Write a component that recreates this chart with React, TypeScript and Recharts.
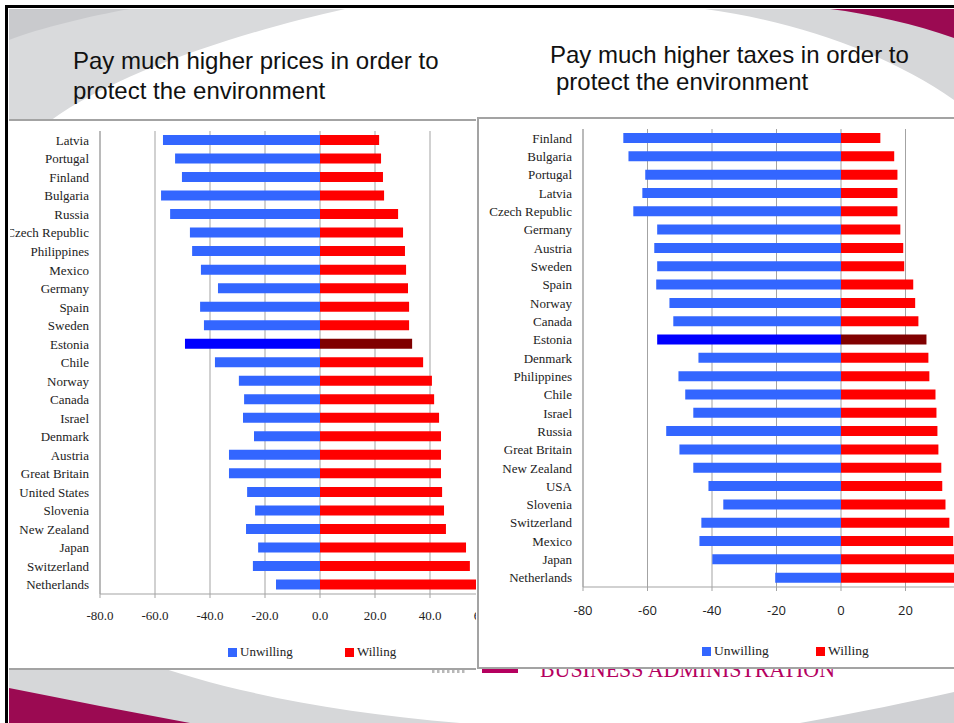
import React from "react";
import { Bar, BarChart, CartesianGrid, Cell, XAxis, YAxis } from "recharts";

// left chart: pay much higher prices
const pricesCountries = ["Latvia", "Portugal", "Finland", "Bulgaria", "Russia", "Czech Republic", "Philippines", "Mexico", "Germany", "Spain", "Sweden", "Estonia", "Chile", "Norway", "Canada", "Israel", "Denmark", "Austria", "Great Britain", "United States", "Slovenia", "New Zealand", "Japan", "Switzerland", "Netherlands"];
const pricesUnwilling = [-57.1, -52.7, -50.2, -57.8, -54.5, -47.3, -46.5, -43.3, -37.1, -43.6, -42.2, -49.1, -38.2, -29.5, -27.6, -28.0, -24.0, -33.1, -33.1, -26.5, -23.6, -26.9, -22.5, -24.4, -16.0];
const pricesWilling = [21.5, 22.2, 22.9, 23.3, 28.4, 30.2, 30.9, 31.3, 32.0, 32.4, 32.4, 33.5, 37.5, 40.7, 41.5, 43.3, 44.0, 44.0, 44.0, 44.4, 45.1, 45.8, 53.1, 54.5, 58.0];
const pricesTicks = [-80, -60, -40, -20, 0, 20, 40, 60];

// right chart: pay much higher taxes
const taxesCountries = ["Finland", "Bulgaria", "Portugal", "Latvia", "Czech Republic", "Germany", "Austria", "Sweden", "Spain", "Norway", "Canada", "Estonia", "Denmark", "Philippines", "Chile", "Israel", "Russia", "Great Britain", "New Zealand", "USA", "Slovenia", "Switzerland", "Mexico", "Japan", "Netherlands"];
const taxesUnwilling = [-67.5, -65.9, -60.7, -61.6, -64.4, -57.0, -57.9, -57.0, -57.3, -53.2, -52.0, -57.0, -44.2, -50.4, -48.3, -45.8, -54.2, -50.1, -45.8, -41.1, -36.5, -43.3, -43.9, -39.9, -20.4];
const taxesWilling = [12.2, 16.5, 17.5, 17.5, 17.5, 18.4, 19.3, 19.6, 22.4, 23.0, 24.0, 26.5, 27.1, 27.4, 29.3, 29.6, 29.9, 30.2, 31.1, 31.4, 32.4, 33.6, 34.8, 36.0, 37.0];
const taxesTicks = [-80, -60, -40, -20, 0, 20, 40];

const highlight = "Estonia";
const BLUE = "#3366FF", RED = "#FF0000", BLUE_HI = "#0000FF", RED_HI = "#800000";
const GRID = "#a3a3a3";
const SERIF = "'Liberation Serif', 'Times New Roman', serif";

function build(countries: string[], unwilling: number[], willing: number[]) {
  return countries.map((country, i) => ({ country, unwilling: unwilling[i], willing: willing[i] }));
}

// plain label, no wrapping (long names just run off the panel edge like the original)
const CountryTick = ({ x, y, payload }: any) =>
  <text x={x} y={y} dy="0.355em" textAnchor="end" fill="#222" fontFamily={SERIF} fontSize={13}>{payload.value}</text>;

function Diverging({ data, ticks, width, height, yWidth, right, fmt, tickFont, tickMargin }: any) {
  return <BarChart layout="vertical" width={width} height={height} data={data} stackOffset="sign"
    margin={{ top: 11, right, bottom: 0, left: 0 }}>
    <CartesianGrid horizontal={false} stroke={GRID} />
    <XAxis type="number" domain={[ticks[0], ticks[ticks.length - 1]]} ticks={ticks} interval={0} allowDataOverflow
      tickFormatter={fmt} height={30} tickSize={4} tickMargin={tickMargin} stroke={GRID}
      tick={{ fill: "#222", ...tickFont }} />
    <YAxis type="category" dataKey="country" width={yWidth} interval={0} tickLine={false} tickSize={0} tickMargin={11}
      axisLine={{ stroke: GRID }} tick={<CountryTick />} />
    <Bar dataKey="unwilling" stackId="s" barSize={10} isAnimationActive={false}>
      {data.map((d: any) => <Cell key={d.country} fill={d.country === highlight ? BLUE_HI : BLUE} />)}
    </Bar>
    <Bar dataKey="willing" stackId="s" barSize={10} isAnimationActive={false}>
      {data.map((d: any) => <Cell key={d.country} fill={d.country === highlight ? RED_HI : RED} />)}
    </Bar>
  </BarChart>;
}

function Legend({ x1, x2, top, size }: { x1: number; x2: number; top: number; size: number }) {
  const item = (x: number, color: string, label: string) => <div style={{ position: "absolute", left: x, top, display: "flex", alignItems: "center", fontFamily: SERIF, fontSize: size, color: "#222", lineHeight: "14px" }}>
    <span style={{ width: 9, height: 9, background: color, marginRight: 3 }} />{label}
  </div>;
  return <>{item(x1, BLUE, "Unwilling")}{item(x2, RED, "Willing")}</>;
}

const title: React.CSSProperties = { position: "absolute", fontFamily: "'Liberation Sans', Arial, sans-serif", fontSize: 24, lineHeight: "30px", color: "#111", whiteSpace: "nowrap" };

export default function App() {
  const prices = build(pricesCountries, pricesUnwilling, pricesWilling);
  const taxes = build(taxesCountries, taxesUnwilling, taxesWilling);
  return <div style={{ position: "absolute", left: 0, top: 0, width: 954, height: 723, overflow: "hidden", background: "#fff" }}>
    <svg width={954} height={723} style={{ position: "absolute", left: 0, top: 0 }}>
      <path d="M9,9 L345,9 C250,30 120,70 50,121 L9,121 Z" fill="#d9dadc" />
      <path d="M9,9 L130,9 C90,16 40,28 9,40 Z" fill="#c9cacd" />
      <path d="M705,9 L954,9 L954,100 C890,55 800,22 705,9 Z" fill="#d6d7d9" />
      <path d="M830,9 L954,9 L954,38 C915,24 870,14 830,9 Z" fill="#9b0a52" />
      <path d="M9,660 L140,660 C220,690 330,712 460,723 L9,723 Z" fill="#d6d7d9" />
      <path d="M9,688 C70,700 130,712 190,723 L9,723 Z" fill="#9b0a52" />
      <path d="M800,723 C860,712 910,702 954,692 L954,723 Z" fill="#d0d1d4" />
      <g fill="#b8b8b8">{[432, 437, 442, 447, 452, 457, 462].map((x) => <rect key={x} x={x} y={664} width={2.5} height={9} />)}</g>
      <rect x={482} y={660} width={36} height={13} fill="#b5005f" />
      <text x={540} y={677} fontFamily={SERIF} fontSize={24} fill="#b5005f" textLength={295} lengthAdjust="spacingAndGlyphs">BUSINESS ADMINISTRATION</text>
      <rect x={6.5} y={6.5} width={960} height={730} fill="none" stroke="#000" strokeWidth={3} />
    </svg>

    <div style={{ ...title, left: 73, top: 46 }}>Pay much higher prices in order to</div>
    <div style={{ ...title, left: 73, top: 76 }}>protect the environment</div>
    <div style={{ ...title, left: 550, top: 40 }}>Pay much higher taxes in order to</div>
    <div style={{ ...title, left: 556, top: 67 }}>protect the environment</div>

    <div style={{ position: "absolute", left: 9, top: 119, width: 467, height: 551, overflow: "hidden", background: "#fff", boxShadow: `inset 0 2px 0 ${GRID}, inset 0 -2px 0 ${GRID}` }}>
      <div style={{ position: "absolute", left: 1, top: 1 }}>
        <Diverging data={prices} ticks={pricesTicks} width={490} height={504} yWidth={90} right={15}
          fmt={(v: number) => v.toFixed(1)} tickFont={{ fontFamily: SERIF, fontSize: 13 }} tickMargin={13} />
      </div>
      <Legend x1={219} x2={336} top={526} size={13} />
    </div>

    <div style={{ position: "absolute", left: 477, top: 117, width: 480, height: 552, overflow: "hidden", background: "#fff", boxShadow: `inset 2px 0 0 ${GRID}, inset 0 2px 0 ${GRID}, inset 0 -2px 0 ${GRID}` }}>
      <div style={{ position: "absolute", left: 1, top: 1 }}>
        <Diverging data={taxes} ticks={taxesTicks} width={500} height={499} yWidth={105} right={8}
          fmt={(v: number) => String(v)} tickFont={{ fontFamily: "'Open Sans', sans-serif", fontSize: 13 }} tickMargin={15} />
      </div>
      <Legend x1={225} x2={339} top={527} size={13.5} />
    </div>
  </div>;
}
